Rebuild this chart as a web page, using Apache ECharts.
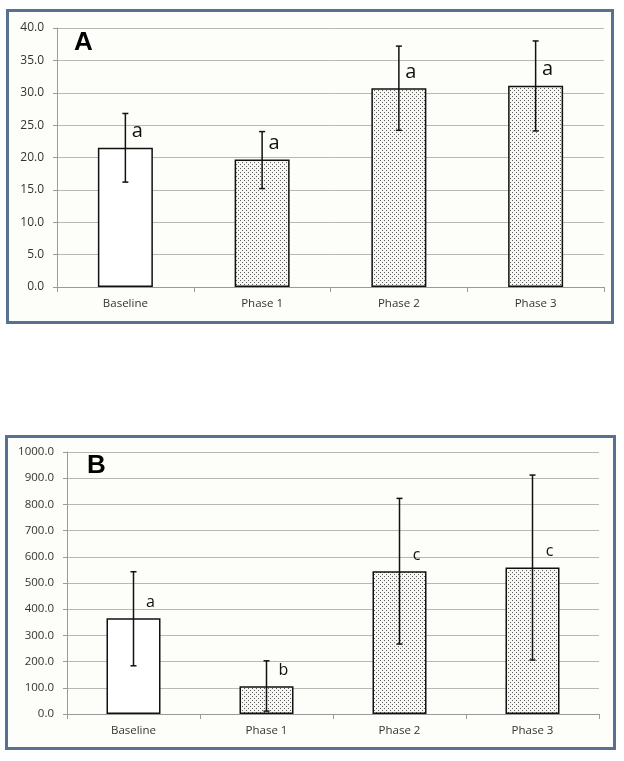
<!DOCTYPE html>
<html><head><meta charset="utf-8">
<script src="https://cdn.jsdelivr.net/npm/echarts@6/dist/echarts.min.js"></script>
<style>html,body{margin:0;padding:0;background:#fff}#c{width:624px;height:761px}</style>
</head><body><div id="c"></div>
<script>
// ---- data ----
const categories = ['Baseline', 'Phase 1', 'Phase 2', 'Phase 3'];
const valuesA = [21.5, 19.7, 30.7, 31.1];
const errLowA = [16.2, 15.2, 24.2, 24.1];
const errHighA = [26.8, 24.0, 37.2, 38.0];
const lettersA = ['a', 'a', 'a', 'a'];
const yTicksA = [0, 5, 10, 15, 20, 25, 30, 35, 40];

const valuesB = [365, 106, 545, 559];
const errLowB = [184, 11, 267, 206];
const errHighB = [543, 203, 823, 912];
const lettersB = ['a', 'b', 'c', 'c'];
const yTicksB = [0, 100, 200, 300, 400, 500, 600, 700, 800, 900, 1000];

const panelLabels = ['A', 'B'];

// ---- styling helpers ----
function dotPattern() {
  const c = document.createElement('canvas');
  c.width = 4; c.height = 4;
  const g = c.getContext('2d');
  g.fillStyle = '#f6f6f2'; g.fillRect(0, 0, 4, 4);
  g.fillStyle = '#5e5e5e';
  g.fillRect(0, 0, 1, 1);
  g.fillRect(2, 2, 1, 1);
  return c;
}
const pattern = { image: dotPattern(), repeat: 'repeat' };
const FONT = 'Open Sans';

function xAxisCfg(gridIndex, fs) {
  return {
    type: 'category', gridIndex, data: categories,
    axisLine: { lineStyle: { color: '#9a9a9a', width: 1 } },
    axisTick: { show: true, length: 5, interval: 0, alignWithLabel: false, lineStyle: { color: '#9a9a9a' } },
    axisLabel: { color: '#333', fontSize: fs, fontFamily: FONT, margin: 11, interval: 0 },
    splitLine: { show: false }
  };
}
function yAxisCfg(gridIndex, ticks, fs) {
  return {
    type: 'value', gridIndex,
    min: ticks[0], max: ticks[ticks.length - 1], interval: ticks[1] - ticks[0],
    axisLine: { show: true, lineStyle: { color: '#9a9a9a', width: 1 } },
    axisTick: { show: true, length: 4, lineStyle: { color: '#9a9a9a' } },
    axisLabel: { color: '#333', fontSize: fs, fontFamily: FONT, margin: 13, formatter: v => v.toFixed(1) },
    splitLine: { show: true, lineStyle: { color: '#b9b9b3', width: 1 } }
  };
}
function barSeries(idx, values, bw) {
  return {
    type: 'bar', xAxisIndex: idx, yAxisIndex: idx, barWidth: bw, z: 2,
    data: values.map((v, i) => ({
      value: v,
      itemStyle: { color: i === 0 ? '#ffffff' : pattern, borderColor: '#111', borderWidth: 1.5 }
    })),
    emphasis: { disabled: true }, animation: false
  };
}
function errSeries(idx, lows, highs) {
  return {
    type: 'custom', xAxisIndex: idx, yAxisIndex: idx, z: 5, animation: false,
    data: lows.map((l, i) => [i, l, highs[i]]),
    renderItem: (params, api) => {
      const lo = api.coord([api.value(0), api.value(1)]);
      const hi = api.coord([api.value(0), api.value(2)]);
      const x = lo[0], cw = 3;
      const st = { stroke: '#111', lineWidth: 1.5 };
      return { type: 'group', children: [
        { type: 'line', shape: { x1: x, y1: lo[1], x2: x, y2: hi[1] }, style: st },
        { type: 'line', shape: { x1: x - cw, y1: lo[1], x2: x + cw, y2: lo[1] }, style: st },
        { type: 'line', shape: { x1: x - cw, y1: hi[1], x2: x + cw, y2: hi[1] }, style: st }
      ]};
    }
  };
}
function letterSeries(idx, values, letters, dx, dy, fs) {
  return {
    type: 'custom', xAxisIndex: idx, yAxisIndex: idx, z: 6, animation: false,
    data: values.map((v, i) => [i, v]),
    renderItem: (params, api) => {
      const p = api.coord([api.value(0), api.value(1)]);
      return { type: 'text', x: p[0] + dx, y: p[1] - dy,
        style: { text: letters[params.dataIndex], fontSize: fs, fontFamily: FONT, fill: '#111',
                 align: 'center', verticalAlign: 'middle', textAlign: 'center', textVerticalAlign: 'middle' } };
    }
  };
}

const chart = echarts.init(document.getElementById('c'), null, { renderer: 'canvas' });
chart.setOption({
  backgroundColor: '#ffffff',
  animation: false,
  graphic: [
    { type: 'rect', z: -10, shape: { x: 7.5, y: 10.5, width: 605, height: 312 },
      style: { fill: '#fdfdfa', stroke: '#587191', lineWidth: 3 } },
    { type: 'rect', z: -10, shape: { x: 6.5, y: 436.5, width: 608, height: 312 },
      style: { fill: '#fdfdfa', stroke: '#587191', lineWidth: 3 } },
    { type: 'text', z: 100, left: 74, top: 30,
      style: { text: panelLabels[0], fontSize: 26, fontWeight: 'bold', fontFamily: 'Liberation Sans', fill: '#000' } },
    { type: 'text', z: 100, left: 87, top: 453,
      style: { text: panelLabels[1], fontSize: 26, fontWeight: 'bold', fontFamily: 'Liberation Sans', fill: '#000' } }
  ],
  grid: [
    { left: 57, top: 28, width: 547, height: 259 },
    { left: 67, top: 452, width: 532, height: 262 }
  ],
  xAxis: [xAxisCfg(0, 11.5), xAxisCfg(1, 11.5)],
  yAxis: [yAxisCfg(0, yTicksA, 12), yAxisCfg(1, yTicksB, 11.5)],
  series: [
    barSeries(0, valuesA, 55),
    errSeries(0, errLowA, errHighA),
    letterSeries(0, valuesA, lettersA, 12, 16, 20),
    barSeries(1, valuesB, 54),
    errSeries(1, errLowB, errHighB),
    letterSeries(1, valuesB, lettersB, 17, 16, 16)
  ]
});
</script>
</body></html>
